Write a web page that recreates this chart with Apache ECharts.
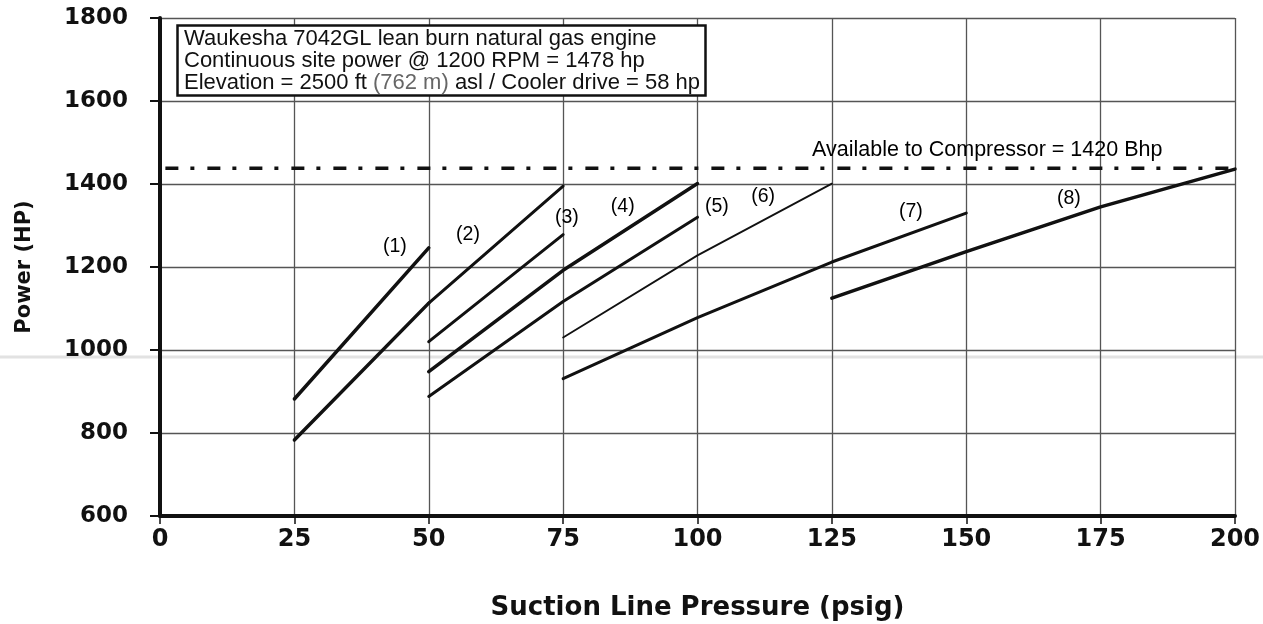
<!DOCTYPE html>
<html><head><meta charset="utf-8">
<script src="https://cdn.jsdelivr.net/npm/echarts/dist/echarts.min.js"></script>
<style>html,body{margin:0;padding:0;background:#fff}#c{width:1263px;height:624px}</style>
</head><body><div id="c"></div>
<script>
// ---- data ----
const xTicks = [0, 25, 50, 75, 100, 125, 150, 175, 200];
const yTicks = [600, 800, 1000, 1200, 1400, 1600, 1800];
const curve1Upper = [[25, 882], [50, 1246]];
const curve1Lower = [[25, 783], [50, 1113]];
const curve2 = [[50, 1113], [75, 1395]];
const curve3 = [[50, 1020], [75, 1278]];
const curve4 = [[50, 948], [75, 1192], [100, 1401]];
const curve5 = [[50, 888], [75, 1117], [100, 1320]];
const curve6 = [[75, 1030], [100, 1228], [125, 1401]];
const curve7 = [[75, 931], [100, 1078], [125, 1212], [150, 1330]];
const curve8 = [[125, 1125], [150, 1237], [175, 1345], [200, 1436]];
const availableLine = [[1, 1438], [200, 1438]];
const curveLabels = [
  [43.7, 1248, '(1)'], [57.3, 1278, '(2)'], [75.7, 1318, '(3)'], [86.1, 1346, '(4)'],
  [103.6, 1346, '(5)'], [112.2, 1370, '(6)'], [139.7, 1334, '(7)'], [169.1, 1365, '(8)']
];
const availableText = [153.9, 1481, 'Available to Compressor = 1420 Bhp'];
const infoLines = [
  'Waukesha 7042GL lean burn natural gas engine',
  'Continuous site power @ 1200 RPM = 1478 hp',
  'Elevation = 2500 ft {g|(762 m)} asl / Cooler drive = 58 hp'
];
const xName = 'Suction Line Pressure (psig)';
const yName = 'Power (HP)';

// ---- chart ----
const chart = echarts.init(document.getElementById('c'), null, {renderer: 'canvas'});
const sans = 'Liberation Sans, Arial, sans-serif';
function lineSeries(data, width) {
  return {type: 'line', data: data, symbol: 'none', silent: true,
    lineStyle: {color: '#111', width: width, cap: 'round'}, z: 3};
}
const labelStyle = (size) => ({show: true, position: 'inside', formatter: p => p.name, opacity: 1,
  fontFamily: sans, fontSize: size, color: '#000', textBorderWidth: 0, textBorderColor: 'transparent'});
const option = {
  backgroundColor: '#fff',
  animation: false,
  title: {
    text: infoLines.join('\n'),
    left: 177, top: 25, z: 10,
    backgroundColor: '#fff',
    borderColor: '#111', borderWidth: 2.5,
    padding: [3, 6, 2, 7],
    textStyle: {fontFamily: sans, fontSize: 22, fontWeight: 'normal', color: '#111', lineHeight: 22,
      rich: {g: {fontFamily: sans, fontSize: 22, color: '#666', lineHeight: 22}}}
  },
  grid: {left: 160, right: 28, top: 18, bottom: 108, containLabel: false, outerBoundsMode: 'none'},
  xAxis: {
    type: 'value', min: 0, max: 200, interval: 25,
    name: xName, nameLocation: 'middle', nameGap: 79,
    nameTextStyle: {fontFamily: 'DejaVu Sans', fontWeight: 'bold', fontSize: 26, color: '#111'},
    axisLine: {show: true, onZero: false, lineStyle: {color: '#111', width: 4}},
    axisTick: {show: true, length: 8, lineStyle: {color: '#111', width: 1.5}},
    axisLabel: {margin: 12, fontFamily: 'DejaVu Sans', fontWeight: 'bold', fontSize: 24, color: '#111',
      customValues: xTicks, formatter: v => String(v)},
    splitLine: {show: true, lineStyle: {color: '#555', width: 1.3}}
  },
  yAxis: {
    type: 'value', min: 600, max: 1800, interval: 200,
    name: yName, nameLocation: 'middle', nameGap: 125,
    nameTextStyle: {fontFamily: 'DejaVu Sans', fontWeight: 'bold', fontSize: 21, color: '#111'},
    axisLine: {show: true, onZero: false, lineStyle: {color: '#111', width: 4}},
    axisTick: {show: true, length: 10, lineStyle: {color: '#111', width: 2}},
    axisLabel: {margin: 32, fontFamily: 'DejaVu Sans', fontWeight: 'bold', fontSize: 23, color: '#111',
      customValues: yTicks, formatter: v => String(v)},
    splitLine: {show: true, lineStyle: {color: '#555', width: 1.3}}
  },
  graphic: [{
    type: 'line', z: -10, silent: true,
    shape: {x1: 0, y1: 357, x2: 1263, y2: 357},
    style: {stroke: '#e2e2e2', lineWidth: 3}
  }],
  series: [
    lineSeries(curve1Upper, 3.5),
    lineSeries(curve1Lower, 3.5),
    lineSeries(curve2, 3),
    lineSeries(curve3, 3),
    lineSeries(curve4, 3.5),
    lineSeries(curve5, 3),
    lineSeries(curve6, 1.8),
    lineSeries(curve7, 3),
    lineSeries(curve8, 3.5),
    {type: 'line', data: availableLine, symbol: 'none', silent: true, z: 3,
      lineStyle: {color: '#111', width: 3.5, type: [13, 12, 4, 13]}},
    {type: 'scatter', symbolSize: 0, silent: true, z: 4, itemStyle: {opacity: 1},
      data: curveLabels.map(d => ({value: [d[0], d[1]], name: d[2]})),
      label: labelStyle(19.5)},
    {type: 'scatter', symbolSize: 0, silent: true, z: 4, itemStyle: {opacity: 1},
      data: [{value: [availableText[0], availableText[1]], name: availableText[2]}],
      label: labelStyle(21.5)}
  ]
};
chart.setOption(option);
</script></body></html>
